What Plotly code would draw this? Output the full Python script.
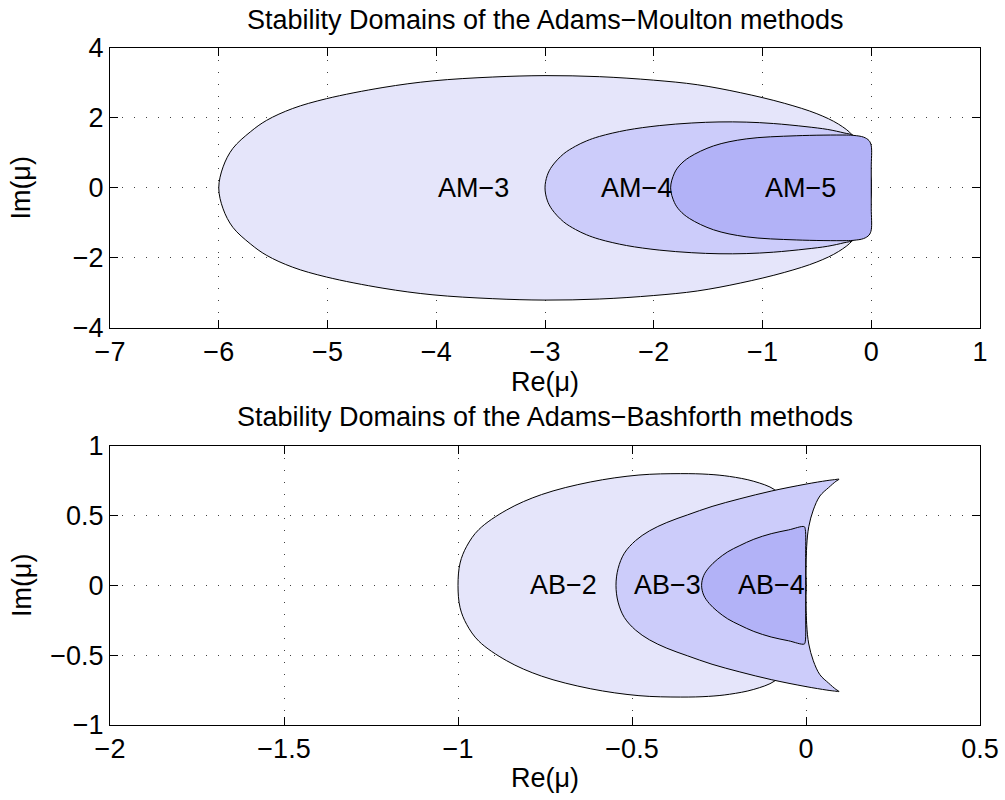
import plotly.graph_objects as go

# Boundary loci of each stability region: upper half read left to right,
# then lower half back to the starting point (closed outline).

# Adams-Moulton regions
am3_x = [-6.00, -5.96, -5.87, -5.71, -5.56, -5.32, -5.01, -4.49, -4.03, -3.48, -3.00, -2.50, -2.00,
         -1.60, -1.20, -0.80, -0.50, -0.30, -0.17, -0.07, -0.015, 0.00,
         -0.015, -0.07, -0.17, -0.30, -0.50, -0.80, -1.20, -1.60,
         -2.00, -2.50, -3.00, -3.48, -4.03, -4.49, -5.01, -5.32, -5.56, -5.71, -5.87, -5.96, -6.00]
am3_y = [0.00, 0.60, 1.13, 1.60, 1.93, 2.27, 2.55, 2.87, 3.06, 3.17, 3.21, 3.18, 3.08,
         2.95, 2.72, 2.42, 2.12, 1.82, 1.50, 1.00, 0.50, 0.00,
         -0.50, -1.00, -1.50, -1.82, -2.12, -2.42, -2.72, -2.95,
         -3.08, -3.18, -3.21, -3.17, -3.06, -2.87, -2.55, -2.27, -1.93, -1.60, -1.13, -0.60, 0.00]

am4_x = [-3.00, -2.98, -2.935, -2.83, -2.72, -2.62, -2.50, -2.25, -1.95, -1.65, -1.40, -1.15, -0.90,
         -0.60, -0.40, -0.25, -0.16, -0.07, -0.02, 0.00,
         -0.02, -0.07, -0.16, -0.25, -0.40, -0.60, -0.90, -1.15, -1.40, -1.65, -1.95, -2.25,
         -2.50, -2.62, -2.72, -2.83, -2.935, -2.98, -3.00]
am4_y = [0.00, 0.35, 0.62, 0.97, 1.19, 1.34, 1.47, 1.65, 1.78, 1.855, 1.885, 1.88, 1.84,
         1.75, 1.67, 1.57, 1.49, 1.10, 0.55, 0.00,
         -0.55, -1.10, -1.49, -1.57, -1.67, -1.75, -1.84, -1.88, -1.885, -1.855, -1.78, -1.65,
         -1.47, -1.34, -1.19, -0.97, -0.62, -0.35, 0.00]

am5_x = [-1.845, -1.81, -1.76, -1.67, -1.45, -1.15, -0.69, -0.23, -0.16, -0.07, -0.02, 0.00, 0.00, 0.00,
         0.00, 0.00, -0.02, -0.07, -0.16, -0.23, -0.69, -1.15, -1.45, -1.67, -1.76, -1.81, -1.845]
am5_y = [0.00, 0.42, 0.65, 0.88, 1.20, 1.40, 1.49, 1.51, 1.50, 1.45, 1.35, 1.20, 0.60, 0.00,
         -0.60, -1.20, -1.35, -1.45, -1.50, -1.51, -1.49, -1.40, -1.20, -0.88, -0.65, -0.42, 0.00]

# Adams-Bashforth regions
ab2_x = [-1.000, -0.994, -0.975, -0.94, -0.86, -0.76, -0.62, -0.48, -0.36, -0.28, -0.22, -0.15, -0.09,
         -0.05, -0.025, -0.008, 0.00,
         -0.008, -0.025, -0.05, -0.09, -0.15, -0.22, -0.28, -0.36, -0.48, -0.62, -0.76, -0.86,
         -0.94, -0.975, -0.994, -1.000]
ab2_y = [0.00, 0.16, 0.28, 0.40, 0.54, 0.65, 0.74, 0.79, 0.80, 0.795, 0.78, 0.745, 0.685,
         0.58, 0.40, 0.20, 0.00,
         -0.20, -0.40, -0.58, -0.685, -0.745, -0.78, -0.795, -0.80, -0.79, -0.74, -0.65, -0.54,
         -0.40, -0.28, -0.16, 0.00]

ab3_x = [-0.546, -0.540, -0.522, -0.49, -0.45, -0.40, -0.34, -0.27, -0.19, -0.10, 0.00, 0.06, 0.082, 0.095,
         0.086, 0.065, 0.04, 0.021, 0.008, 0.002, 0.000,
         0.002, 0.008, 0.021, 0.04, 0.065, 0.086,
         0.095, 0.082, 0.06, 0.00, -0.10, -0.19, -0.27, -0.34, -0.40, -0.45, -0.49, -0.522, -0.540, -0.546]
ab3_y = [0.00, 0.12, 0.23, 0.32, 0.39, 0.45, 0.505, 0.565, 0.62, 0.675, 0.725, 0.75, 0.757, 0.76,
         0.745, 0.70, 0.64, 0.54, 0.42, 0.28, 0.00,
         -0.28, -0.42, -0.54, -0.64, -0.70, -0.745,
         -0.76, -0.757, -0.75, -0.725, -0.675, -0.62, -0.565, -0.505, -0.45, -0.39, -0.32, -0.23, -0.12, 0.00]

ab4_x = [-0.300, -0.294, -0.278, -0.255, -0.225, -0.19, -0.15, -0.10, -0.05, -0.005, -0.002, -0.001, -0.001,
         -0.001, -0.002, -0.005, -0.05, -0.10, -0.15, -0.19, -0.225, -0.255, -0.278, -0.294, -0.300]
ab4_y = [0.00, 0.07, 0.13, 0.185, 0.24, 0.285, 0.33, 0.37, 0.397, 0.42, 0.40, 0.20, 0.00,
         -0.20, -0.40, -0.42, -0.397, -0.37, -0.33, -0.285, -0.24, -0.185, -0.13, -0.07, 0.00]

# Region labels: (text, x, y) with the text starting at x
am_labels = [("AM−3", -4.0, 0.0), ("AM−4", -2.5, 0.0), ("AM−5", -1.0, 0.0)]
ab_labels = [("AB−2", -0.8, 0.0), ("AB−3", -0.5, 0.0), ("AB−4", -0.2, 0.0)]

fills = ["rgb(229,229,250)", "rgb(204,204,250)", "rgb(178,178,247)"]
FONT = "Liberation Sans, Arial, Helvetica, sans-serif"
FS = 27

fig = go.Figure()

def add_region(xs, ys, color, xa, ya):
    fig.add_trace(go.Scatter(
        x=xs, y=ys, mode="lines", fill="toself", fillcolor=color,
        line=dict(color="black", width=1, shape="spline", smoothing=1.0, simplify=False),
        xaxis=xa, yaxis=ya, hoverinfo="skip", showlegend=False))

for (xs, ys), c in zip([(am3_x, am3_y), (am4_x, am4_y), (am5_x, am5_y)], fills):
    add_region(xs, ys, c, "x", "y")
for (xs, ys), c in zip([(ab2_x, ab2_y), (ab3_x, ab3_y), (ab4_x, ab4_y)], fills):
    add_region(xs, ys, c, "x2", "y2")

annotations = []
for txt, x, y in am_labels:
    annotations.append(dict(text=txt, x=x, y=y, xref="x", yref="y", xanchor="left",
                            yanchor="middle", showarrow=False, font=dict(size=FS, color="black")))
for txt, x, y in ab_labels:
    annotations.append(dict(text=txt, x=x, y=y, xref="x2", yref="y2", xanchor="left",
                            yanchor="middle", showarrow=False, font=dict(size=FS, color="black")))
annotations.append(dict(text="Stability Domains of the Adams−Moulton methods", x=0.5424, y=0.975,
                        xref="paper", yref="paper", xanchor="center", yanchor="middle",
                        showarrow=False, font=dict(size=FS, color="black")))
annotations.append(dict(text="Stability Domains of the Adams−Bashforth methods", x=0.5424, y=0.479,
                        xref="paper", yref="paper", xanchor="center", yanchor="middle",
                        showarrow=False, font=dict(size=FS, color="black")))

axis_common = dict(
    showline=True, linecolor="black", linewidth=1, mirror="allticks",
    ticks="inside", ticklen=8, tickcolor="black", tickwidth=1,
    showgrid=True, gridcolor="rgba(0,0,0,0.75)", griddash="1px,11px", gridwidth=1,
    zeroline=False, tickfont=dict(size=FS, color="black"), automargin=False,
)

xdom = [110 / 1005, 980 / 1005]
fig.update_layout(
    width=1005, height=800,
    margin=dict(l=0, r=0, t=0, b=0),
    paper_bgcolor="white", plot_bgcolor="white",
    font=dict(family=FONT, size=FS, color="black"),
    showlegend=False,
    annotations=annotations,
    xaxis=dict(domain=xdom, range=[-7, 1], dtick=1, tick0=0, anchor="y",
               title=dict(text="Re(μ)", standoff=4, font=dict(size=FS)), **axis_common),
    yaxis=dict(domain=[1 - 327.7 / 800, 1 - 48 / 800], range=[-4, 4], dtick=2, tick0=0, anchor="x",
               title=dict(text="Im(μ)", standoff=34, font=dict(size=FS)), **axis_common),
    xaxis2=dict(domain=xdom, range=[-2, 0.5], dtick=0.5, tick0=0, anchor="y2",
                title=dict(text="Re(μ)", standoff=4, font=dict(size=FS)), **axis_common),
    yaxis2=dict(domain=[1 - 725 / 800, 1 - 445.7 / 800], range=[-1, 1], dtick=0.5, tick0=0, anchor="x2",
                title=dict(text="Im(μ)", standoff=10, font=dict(size=FS)), **axis_common),
)

fig.write_html("out.html")
